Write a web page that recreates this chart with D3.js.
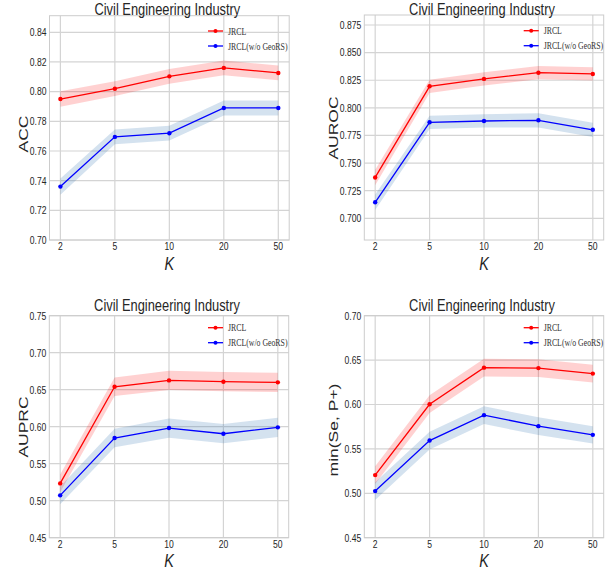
<!DOCTYPE html>
<html><head><meta charset="utf-8">
<script src="https://cdn.jsdelivr.net/npm/d3@7"></script>
<style>body{margin:0;background:#fff}svg{display:block}</style>
</head><body>
<svg id="c" width="614" height="571"></svg>
<script>
// ---- data ----
const kLabels = ["2", "5", "10", "20", "50"];
const seriesNames = ["JRCL", "JRCL(w/o GeoRS)"];
const title = "Civil Engineering Industry";

const accJRCL      = [0.795, 0.802, 0.8103, 0.816, 0.8126];
const accJRCLStd   = [0.0052, 0.005, 0.005, 0.005, 0.005];
const accNoGeo     = [0.736, 0.7695, 0.772, 0.789, 0.789];
const accNoGeoStd  = [0.0055, 0.005, 0.005, 0.005, 0.005];
const accTicks     = [0.70, 0.72, 0.74, 0.76, 0.78, 0.80, 0.82, 0.84];

const aurocJRCL     = [0.737, 0.8195, 0.8262, 0.8318, 0.8307];
const aurocJRCLStd  = [0.007, 0.006, 0.006, 0.006, 0.006];
const aurocNoGeo    = [0.7145, 0.7869, 0.7881, 0.7887, 0.7801];
const aurocNoGeoStd = [0.007, 0.006, 0.006, 0.0065, 0.0065];
const aurocTicks    = [0.700, 0.725, 0.750, 0.775, 0.800, 0.825, 0.850, 0.875];

const auprcJRCL     = [0.5234, 0.654, 0.6626, 0.6608, 0.6599];
const auprcJRCLStd  = [0.012, 0.0125, 0.013, 0.013, 0.013];
const auprcNoGeo    = [0.5072, 0.5847, 0.5982, 0.5905, 0.5991];
const auprcNoGeoStd = [0.012, 0.0125, 0.013, 0.013, 0.013];
const auprcTicks    = [0.45, 0.50, 0.55, 0.60, 0.65, 0.70, 0.75];

const minJRCL       = [0.5205, 0.6003, 0.6415, 0.641, 0.6348];
const minJRCLStd    = [0.01, 0.01, 0.01, 0.01, 0.01];
const minNoGeo      = [0.5025, 0.5594, 0.588, 0.5756, 0.5658];
const minNoGeoStd   = [0.01, 0.01, 0.01, 0.01, 0.0098];
const minTicks      = [0.45, 0.50, 0.55, 0.60, 0.65, 0.70];

const tickFmt2 = d3.format(".2f"), tickFmt3 = d3.format(".3f");

const panels = [
  {ylabel:"ACC", a:accJRCL, as:accJRCLStd, b:accNoGeo, bs:accNoGeoStd, ticks:accTicks, fmt:tickFmt2,
   box:{l:49.5, r:289.2, t:15.7, b:240}, ymap:[0.70,240,0.84,32.3], titleY:15, ylabX:23, ylabY:134,
   xTickY:250, kY:270, leg:{x:208, y:31}},
  {ylabel:"AUROC", a:aurocJRCL, as:aurocJRCLStd, b:aurocNoGeo, bs:aurocNoGeoStd, ticks:aurocTicks, fmt:tickFmt3,
   box:{l:364.3, r:603.7, t:15, b:240}, ymap:[0.700,218.3,0.875,25], titleY:15, ylabX:333, ylabY:128,
   xTickY:250, kY:270, leg:{x:523.7, y:30.7}},
  {ylabel:"AUPRC", a:auprcJRCL, as:auprcJRCLStd, b:auprcNoGeo, bs:auprcNoGeoStd, ticks:auprcTicks, fmt:tickFmt2,
   box:{l:49.3, r:288.7, t:315.7, b:537.7}, ymap:[0.45,537.7,0.75,315.7], titleY:311, ylabX:23, ylabY:427,
   xTickY:547.5, kY:567, leg:{x:208, y:327.7}},
  {ylabel:"min(Se, P+)", a:minJRCL, as:minJRCLStd, b:minNoGeo, bs:minNoGeoStd, ticks:minTicks, fmt:tickFmt2,
   box:{l:364.3, r:603.7, t:315.7, b:537.7}, ymap:[0.45,537.7,0.70,315.7], titleY:311, ylabX:333, ylabY:430,
   xTickY:547.5, kY:567, leg:{x:523.7, y:327.7}}
];

const SX = 0.78; // horizontal squeeze of the original figure
const svg = d3.select("#c");
const TXT = "#262626";

function label(g, x, y, str, o = {}) {
  const t = g.append("text")
    .attr("transform", `translate(${x},${y}) scale(${SX},1)` + (o.rot ? " rotate(-90)" : ""))
    .attr("text-anchor", o.anchor || "middle")
    .attr("font-family", o.family || "'Liberation Sans', Arial, sans-serif")
    .attr("font-size", o.size || 11)
    .attr("fill", o.fill || TXT)
    .text(str);
  if (o.italic) t.attr("font-style", "italic");
  if (o.dy) t.attr("dy", o.dy);
  return t;
}

panels.forEach(p => {
  const g = svg.append("g");
  const B = p.box;
  const x = d3.scalePoint().domain(kLabels).range([B.l, B.r]).padding(0.2);
  const y = d3.scaleLinear().domain([p.ymap[0], p.ymap[2]]).range([p.ymap[1], p.ymap[3]]);

  // grid
  g.selectAll(".gx").data(kLabels).join("line")
    .attr("x1", d => x(d)).attr("x2", d => x(d)).attr("y1", B.t).attr("y2", B.b)
    .attr("stroke", "#d4d4d4").attr("stroke-width", 1.2);
  g.selectAll(".gy").data(p.ticks).join("line")
    .attr("x1", B.l).attr("x2", B.r).attr("y1", d => y(d)).attr("y2", d => y(d))
    .attr("stroke", "#d4d4d4").attr("stroke-width", 1.2);
  // frame
  g.append("rect").attr("x", B.l).attr("y", B.t).attr("width", B.r - B.l).attr("height", B.b - B.t)
    .attr("fill", "none").attr("stroke", "#cccccc").attr("stroke-width", 1);

  // bands + lines
  const series = [
    {v:p.a, s:p.as, line:"#ff0000", band:"#ff0000", op:0.18},
    {v:p.b, s:p.bs, line:"#0000ff", band:"#2a6cb0", op:0.2}
  ];
  series.forEach(S => {
    const rows = kLabels.map((k, i) => ({k, v:S.v[i], lo:S.v[i] - S.s[i], hi:S.v[i] + S.s[i]}));
    g.append("path").datum(rows)
      .attr("d", d3.area().x(d => x(d.k)).y0(d => y(d.lo)).y1(d => y(d.hi)))
      .attr("fill", S.band).attr("fill-opacity", S.op);
  });
  series.forEach(S => {
    const rows = kLabels.map((k, i) => ({k, v:S.v[i]}));
    g.append("path").datum(rows)
      .attr("d", d3.line().x(d => x(d.k)).y(d => y(d.v)))
      .attr("fill", "none").attr("stroke", S.line).attr("stroke-width", 1.3);
    g.selectAll(null).data(rows).join("circle")
      .attr("cx", d => x(d.k)).attr("cy", d => y(d.v)).attr("r", 2.2).attr("fill", S.line);
  });

  // tick labels
  p.ticks.forEach(t => label(g, B.l - 3, y(t), p.fmt(t), {anchor:"end", dy:"0.35em", size:11}));
  kLabels.forEach(k => label(g, x(k), p.xTickY, k, {size:11}));

  // titles
  label(g, (B.l + B.r) / 2 - 2, p.titleY, title, {size:16.5});
  label(g, (B.l + B.r) / 2, p.kY, "K", {size:18.5, italic:true});
  label(g, p.ylabX, p.ylabY, p.ylabel, {size:17.5, rot:true, dy:"0.35em"});

  // legend
  const L = p.leg;
  [["#ff0000", seriesNames[0]], ["#0000ff", seriesNames[1]]].forEach((d, i) => {
    const yy = L.y + i * 15;
    g.append("line").attr("x1", L.x).attr("x2", L.x + 15).attr("y1", yy).attr("y2", yy)
      .attr("stroke", d[0]).attr("stroke-width", 1.3);
    g.append("circle").attr("cx", L.x + 7.5).attr("cy", yy).attr("r", 2).attr("fill", d[0]);
    label(g, L.x + 20, yy, d[1], {anchor:"start", dy:"0.35em", size:10,
      family:"'Liberation Serif', 'Times New Roman', serif", fill:"#333"});
  });
});
</script>
</body></html>
